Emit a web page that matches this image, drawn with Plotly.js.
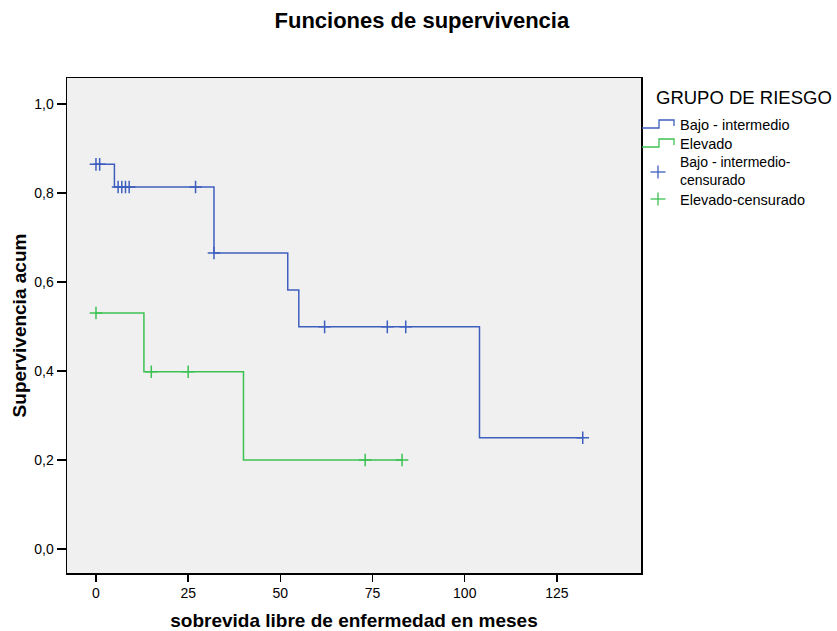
<!DOCTYPE html>
<html>
<head>
<meta charset="utf-8">
<script src="https://cdn.plot.ly/plotly-3.0.1.min.js"></script>
<style>html,body{margin:0;padding:0;background:#fff;}#chart{width:837px;height:631px;}</style>
</head>
<body>
<div id="chart"></div>
<script>
// Kaplan-Meier step data
var bajoX = [0, 5, 32, 52, 55, 104, 132];
var bajoY = [0.864, 0.813, 0.665, 0.582, 0.499, 0.25, 0.25];
var bajoCensX = [0, 1, 6, 7, 8, 9, 27, 32, 62, 79, 84, 132];
var bajoCensY = [0.864, 0.864, 0.813, 0.813, 0.813, 0.813, 0.813, 0.665, 0.499, 0.499, 0.499, 0.25];

var elevX = [0, 13, 40, 83];
var elevY = [0.53, 0.398, 0.2, 0.2];
var elevCensX = [0, 15, 25, 73, 83];
var elevCensY = [0.53, 0.398, 0.398, 0.2, 0.2];

var xTicks = [0, 25, 50, 75, 100, 125];
var yTicks = [0, 0.2, 0.4, 0.6, 0.8, 1.0];

var legendTitle = 'GRUPO DE RIESGO';
var legendNames = ['Bajo - intermedio', 'Elevado', 'Bajo - intermedio-<br>censurado', 'Elevado-censurado'];

var blue = '#3f5fbf';
var green = '#3cc152';
var font = 'Liberation Sans, Arial, sans-serif';

// plot-area geometry in pixels (used only to place the hand-drawn legend)
var W = 837, H = 631, L = 67, R = 196, T = 78, B = 58;
var pw = W - L - R, ph = H - T - B;
function px(x) { return (x - L) / pw; }
function py(y) { return (H - B - y) / ph; }

var traces = [
  {x: bajoX, y: bajoY, type: 'scatter', mode: 'lines', name: 'Bajo - intermedio', showlegend: false,
   line: {shape: 'hv', color: blue, width: 1.5}},
  {x: elevX, y: elevY, type: 'scatter', mode: 'lines', name: 'Elevado', showlegend: false,
   line: {shape: 'hv', color: green, width: 1.5}},
  {x: bajoCensX, y: bajoCensY, type: 'scatter', mode: 'markers', name: 'Bajo - intermedio-censurado', showlegend: false,
   marker: {symbol: 'cross-thin-open', size: 9, color: blue, line: {color: blue, width: 1.5}}},
  {x: elevCensX, y: elevCensY, type: 'scatter', mode: 'markers', name: 'Elevado-censurado', showlegend: false,
   marker: {symbol: 'cross-thin-open', size: 9, color: green, line: {color: green, width: 1.5}}}
];

function stepPath(yb, yt, yr) {
  return 'M' + px(642) + ',' + py(yb) + ' L' + px(659) + ',' + py(yb) + ' L' + px(659) + ',' + py(yt) +
         ' L' + px(674) + ',' + py(yt) + ' L' + px(674) + ',' + py(yr);
}
function cross(cx, cy, color) {
  return [
    {type: 'line', xref: 'paper', yref: 'paper', x0: px(cx - 7.5), x1: px(cx + 7.5), y0: py(cy), y1: py(cy), line: {color: color, width: 1.3}},
    {type: 'line', xref: 'paper', yref: 'paper', x0: px(cx), x1: px(cx), y0: py(cy - 6.5), y1: py(cy + 6.5), line: {color: color, width: 1.3}}
  ];
}
var shapes = [
  {type: 'path', xref: 'paper', yref: 'paper', path: stepPath(128, 120, 126), line: {color: blue, width: 1.3}},
  {type: 'path', xref: 'paper', yref: 'paper', path: stepPath(147, 139, 145), line: {color: green, width: 1.3}}
].concat(cross(658, 172, blue)).concat(cross(658, 199, green));

function label(text, x, y, size) {
  return {text: text, xref: 'paper', yref: 'paper', x: px(x), y: py(y), xanchor: 'left', yanchor: 'middle',
          showarrow: false, borderpad: 0, align: 'left', font: {family: font, size: size, color: '#000'}};
}
var annotations = [
  label(legendTitle, 655, 97, 18.5),
  label(legendNames[0], 679, 125, 14.5),
  label(legendNames[1], 679, 143.5, 14.5),
  label(legendNames[2], 679, 171, 14),
  label(legendNames[3], 679, 199.5, 14.5)
];

var layout = {
  width: W, height: H,
  margin: {l: L, r: R, t: T, b: B},
  paper_bgcolor: '#ffffff',
  plot_bgcolor: '#f0f0f0',
  separators: ',.',
  font: {family: font, size: 14, color: '#000'},
  showlegend: false,
  title: {text: '<b>Funciones de supervivencia</b>', font: {family: font, size: 22, color: '#000'},
          x: 0.504, xanchor: 'center', y: 0.968, yanchor: 'middle'},
  xaxis: {
    range: [-7.86, 147.8], tickvals: xTicks, ticktext: xTicks.map(String),
    ticks: 'outside', ticklen: 7, tickwidth: 1.5, tickcolor: '#000',
    showline: true, linecolor: '#000', linewidth: 1.5, mirror: true,
    showgrid: false, zeroline: false,
    tickfont: {family: font, size: 14, color: '#000'},
    title: {text: '<b>sobrevida libre de enfermedad en meses</b>', font: {family: font, size: 19, color: '#000'}, standoff: 13}
  },
  yaxis: {
    range: [-0.054, 1.058], tickvals: yTicks, tickformat: '.1f',
    ticks: 'outside', ticklen: 9, tickwidth: 1.5, tickcolor: '#000',
    showline: true, linecolor: '#000', linewidth: 1.5, mirror: true,
    showgrid: false, zeroline: false,
    tickfont: {family: font, size: 14, color: '#000'},
    title: {text: '<b>Supervivencia acum</b>', font: {family: font, size: 19, color: '#000'}, standoff: 2}
  },
  shapes: shapes,
  annotations: annotations
};

Plotly.newPlot('chart', traces, layout, {displayModeBar: false, staticPlot: true});
</script>
</body>
</html>
